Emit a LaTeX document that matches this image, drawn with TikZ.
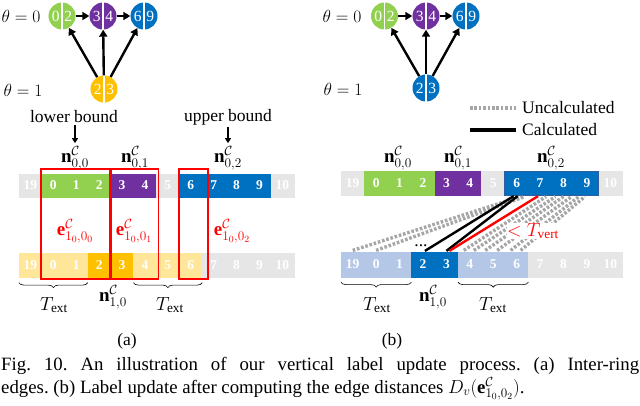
\RequirePackage{fix-cm}
\documentclass[tikz,border=0pt]{standalone}
\usepackage{amsmath}
\usepackage{fontspec}
\setmainfont{Liberation Serif}
\usetikzlibrary{arrows.meta,decorations.pathreplacing,calc}
\definecolor{cgreen}{HTML}{92D050}
\definecolor{cpurple}{HTML}{7030A0}
\definecolor{cblue}{HTML}{0070C0}
\definecolor{cdblue}{HTML}{2E5E9E}
\definecolor{corange}{HTML}{FFC000}
\definecolor{cyellow}{HTML}{FFE699}
\definecolor{cgray}{HTML}{E7E6E6}
\definecolor{clblue}{HTML}{B4C7E7}
\definecolor{cred}{HTML}{FF0000}
\definecolor{cdot}{HTML}{A6A6A6}
\begin{document}
\begin{tikzpicture}[x=1pt,y={(0,-1pt)},
  cell/.style={inner sep=0pt, text=white, font=\fontsize{13.5}{14}\selectfont\bfseries},
  ball/.style={circle, minimum size=27pt, inner sep=0pt, text=white, font=\fontsize{15.5}{16}\selectfont},
  lab/.style={inner sep=1pt, font=\fontsize{17.5}{20}\selectfont},
  mlab/.style={inner sep=1pt, font=\fontsize{19}{21}\selectfont},
  arr/.style={line width=2.4pt, -{Triangle[length=7pt,width=8pt]}},
  divider/.style={white, line width=1.2pt},
  redbox/.style={draw=cred, line width=1.6pt},
  brc/.style={decorate, decoration={brace, mirror, amplitude=5pt}, line width=0.6pt},
  dotline/.style={cdot, line width=3.4pt, dash pattern=on 2.6pt off 1.8pt},
  calcline/.style={black, line width=2.4pt},
  redline/.style={cred, line width=2.4pt},
  captext/.style={inner sep=0pt, anchor=base west, font=\fontsize{18.8}{22}\selectfont}]
\useasboundingbox (0,0) rectangle (640,405);

% ---------------- Panel (a): graph ----------------
\node[lab] (th0a) at (21,16) {$\theta=0$};
\node[lab] (th1a) at (23,90) {$\theta=1$};
\node[ball, fill=cgreen] (ga) at (62,16) {\makebox[12.5pt]{0}\makebox[12.5pt]{2}};
\node[ball, fill=cpurple] (pa) at (103,16) {\makebox[12.5pt]{3}\makebox[12.5pt]{4}};
\node[ball, fill=cblue] (ba) at (144,16) {\makebox[12.5pt]{6}\makebox[12.5pt]{9}};
\node[ball, fill=corange] (ya) at (104,89) {\makebox[12.5pt]{2}\makebox[12.5pt]{3}};
\foreach \n in {ga,pa,ba,ya} \draw[divider] (\n.north) -- (\n.south);
\draw[arr] (ga) -- (pa);
\draw[arr] (pa) -- (ba);
\draw[arr] (ya) -- (ga);
\draw[arr] (ya) -- (pa);
\draw[arr] (ya) -- (ba);

% ---------------- Panel (a): rows ----------------
\foreach \t/\c [count=\i from 0] in {19/cgray,0/cgreen,1/cgreen,2/cgreen,3/cpurple,4/cpurple,5/cgray,6/cblue,7/cblue,8/cblue,9/cblue,10/cgray}
  \node[cell, fill=\c, draw=\c, line width=0.2pt, minimum width=22.9pt, minimum height=23pt] (Lt-\i) at ({30.45+22.9*\i},185.5) {\t};
\foreach \t/\c [count=\i from 0] in {19/cyellow,0/cyellow,1/cyellow,2/corange,3/corange,4/cyellow,5/cyellow,6/cyellow,7/cgray,8/cgray,9/cgray,10/cgray}
  \node[cell, fill=\c, draw=\c, line width=0.2pt, minimum width=22.9pt, minimum height=24pt] (Lb-\i) at ({30.45+22.9*\i},265.5) {\t};

\node[lab] (lb) at (74,117) {lower bound};
\node[lab] (ub) at (228,117) {upper bound};
\node[mlab] (n00a) at (75,158) {$\mathbf{n}^{\mathcal{C}}_{0,0}$};
\node[mlab] (n01a) at (135,158) {$\mathbf{n}^{\mathcal{C}}_{0,1}$};
\node[mlab] (n02a) at (228,158) {$\mathbf{n}^{\mathcal{C}}_{0,2}$};
\draw[line width=1.4pt, -{Triangle[length=5pt,width=6pt]}, shorten <=1pt, shorten >=2pt] (lb.south -| n00a.north) -- (n00a.north);
\draw[line width=1.4pt, -{Triangle[length=5pt,width=6pt]}, shorten <=1pt, shorten >=2pt] (ub.south -| n02a.north) -- (n02a.north);

\draw[redbox] (41,169) rectangle (109.5,279);
\draw[redbox] (111,169) rectangle (158.5,279);
\draw[redbox] (179,169) rectangle (208,279);
\node[mlab, text=cred] (e0) at (75,231) {$\mathbf{e}^{\mathcal{C}}_{1_0,0_0}$};
\node[mlab, text=cred] (e1) at (134,231) {$\mathbf{e}^{\mathcal{C}}_{1_0,0_1}$};
\node[mlab, text=cred] (e2) at (232,231) {$\mathbf{e}^{\mathcal{C}}_{1_0,0_2}$};

\draw[brc] ($(Lb-0.south west)+(0,5)$) -- ($(Lb-2.south east)+(0,5)$);
\draw[brc] ($(Lb-5.south west)+(0,5)$) -- ($(Lb-7.south east)+(0,5)$);
\node[mlab] (ta1) at (54,305) {$T_{\mathrm{ext}}$};
\node[mlab] (ta2) at (170,305) {$T_{\mathrm{ext}}$};
\node[mlab] (n10a) at (113,297) {$\mathbf{n}^{\mathcal{C}}_{1,0}$};
\node[lab] (capa) at (127,341) {(a)};

% ---------------- Panel (b): graph ----------------
\node[lab] (th0b) at (342,16) {$\theta=0$};
\node[lab] (th1b) at (343,89) {$\theta=1$};
\node[ball, fill=cgreen] (gb) at (384.5,16) {\makebox[12.5pt]{0}\makebox[12.5pt]{2}};
\node[ball, fill=cpurple] (pb) at (426,16) {\makebox[12.5pt]{3}\makebox[12.5pt]{4}};
\node[ball, fill=cblue] (bb) at (466,16) {\makebox[12.5pt]{6}\makebox[12.5pt]{9}};
\node[ball, fill=cblue] (yb) at (426,88) {\makebox[12.5pt]{2}\makebox[12.5pt]{3}};
\foreach \n in {gb,pb,bb,yb} \draw[divider] (\n.north) -- (\n.south);
\draw[arr] (gb) -- (pb);
\draw[arr] (pb) -- (bb);
\draw[arr] (yb) -- (gb);
\draw[arr] (yb) -- (pb);
\draw[arr] (yb) -- (bb);

% legend
\coordinate (u1) at (470,108);
\coordinate (u2) at (516,108);
\coordinate (c1) at (470,130);
\coordinate (c2) at (516,130);
\draw[dotline] (u1) -- (u2);
\draw[black, line width=3.6pt] (c1) -- (c2);
\node[lab, anchor=west] (unc) at (521,108) {Uncalculated};
\node[lab, anchor=west] (cal) at (521,130) {Calculated};

% ---------------- Panel (b): rows ----------------
\foreach \t/\c [count=\i from 0] in {19/cgray,0/cgreen,1/cgreen,2/cgreen,3/cpurple,4/cpurple,5/cgray,6/cblue,7/cblue,8/cblue,9/cblue,10/cgray}
  \node[cell, fill=\c, draw=\c, line width=0.2pt, minimum width=23.42pt, minimum height=24pt] (Rt-\i) at ({352.71+23.42*\i},183) {\t};
\draw[cdblue, line width=0.8pt] (Rt-7.north west) rectangle (Rt-10.south east);
\foreach \t/\c [count=\i from 0] in {19/clblue,0/clblue,1/clblue,2/cblue,3/cblue,4/clblue,5/clblue,6/clblue,7/cgray,8/cgray,9/cgray,10/cgray}
  \node[cell, fill=\c, draw=\c, line width=0.2pt, minimum width=23.42pt, minimum height=25pt] (Rb-\i) at ({352.71+23.42*\i},264.5) {\t};

\node[mlab] (n00b) at (398,158) {$\mathbf{n}^{\mathcal{C}}_{0,0}$};
\node[mlab] (n01b) at (458,158) {$\mathbf{n}^{\mathcal{C}}_{0,1}$};
\node[mlab] (n02b) at (551,158) {$\mathbf{n}^{\mathcal{C}}_{0,2}$};

% uncalculated edges
\draw[dotline] ($(Rb-0.north)+(0,-1.5)$) -- ($(Rt-7.south)+(4,1.5)$);
\draw[dotline] ($(Rb-1.north)+(0,-1.5)$) -- ($(Rt-7.south)+(8,1.5)$);
\draw[dotline] ($(Rb-5.north)+(-6,-1.5)$) -- ($(Rt-8.south)+(6,1.5)$);
\draw[dotline] ($(Rb-5.north)+(4,-1.5)$) -- ($(Rt-9.south)+(-8,1.5)$);
\draw[dotline] ($(Rb-6.north)+(-8,-1.5)$) -- ($(Rt-9.south)+(0,1.5)$);
\draw[dotline] ($(Rb-6.north)+(4,-1.5)$) -- ($(Rt-9.south)+(8,1.5)$);
\draw[dotline] ($(Rb-7.north)+(-6,-1.5)$) -- ($(Rt-10.south)+(-8,1.5)$);
\draw[dotline] ($(Rb-7.north)+(4,-1.5)$) -- ($(Rt-10.south)+(-2,1.5)$);
% calculated edges
\draw[calcline] ($(Rb-3.north)+(2,-1)$) -- ($(Rt-7.south)+(-3,1)$);
\draw[calcline] ($(Rb-4.north)+(0,-1)$) -- ($(Rt-7.south)+(1,1)$);
\draw[redline] ($(Rb-4.north)+(3,-1)$) -- ($(Rt-8.south)+(-2,1)$);
\node[lab, anchor=base] (dots) at (421,246) {...};
\node[mlab, text=cred, fill=white, inner sep=0.5pt] (tv) at (533,231) {$<T_{\mathrm{vert}}$};

\draw[brc] ($(Rb-0.south west)+(0,5)$) -- ($(Rb-2.south east)+(0,5)$);
\draw[brc] ($(Rb-5.south west)+(0,5)$) -- ($(Rb-7.south east)+(0,5)$);
\node[mlab] (tb1) at (377,305) {$T_{\mathrm{ext}}$};
\node[mlab] (tb2) at (493,305) {$T_{\mathrm{ext}}$};
\node[mlab] (n10b) at (433,297) {$\mathbf{n}^{\mathcal{C}}_{1,0}$};
\node[lab] (capb) at (392,341) {(b)};

% ---------------- caption ----------------
\node[captext] (cap1) at (1,370)
  {\frenchspacing\makebox[638pt][s]{Fig. 10. An illustration of our vertical label update process. (a) Inter-ring}};
\node[captext] (cap2) at (1,393)
  {\frenchspacing edges. (b) Label update after computing the edge distances $D_v(\mathbf{e}^{\mathcal{C}}_{1_0,0_2})$.};
\end{tikzpicture}
\end{document}
